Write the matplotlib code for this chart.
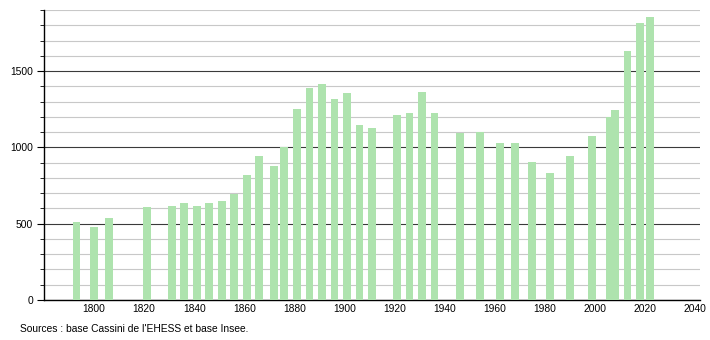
import matplotlib.pyplot as plt
from matplotlib.ticker import MultipleLocator

years = [1793, 1800, 1806, 1821, 1831, 1836, 1841, 1846, 1851, 1856,
         1861, 1866, 1872, 1876, 1881, 1886, 1891, 1896, 1901, 1906,
         1911, 1921, 1926, 1931, 1936, 1946, 1954, 1962, 1968, 1975,
         1982, 1990, 1999, 2006, 2008, 2013, 2018, 2022]
population = [508, 476, 539, 610, 616, 636, 616, 638, 651, 692,
              822, 941, 875, 1000, 1250, 1388, 1412, 1316, 1353, 1149,
              1125, 1211, 1224, 1360, 1224, 1096, 1103, 1031, 1031, 906,
              835, 941, 1072, 1202, 1243, 1630, 1816, 1853]
xticks = list(range(1800, 2041, 20))
source = "Sources : base Cassini de l'EHESS et base Insee."

plt.rcParams['font.family'] = ['Liberation Sans', 'DejaVu Sans']
fs = 7.4

fig = plt.figure(figsize=(7.1, 3.4), dpi=100)
ax = fig.add_axes([44 / 710, 40 / 340, 656 / 710, 290 / 340])

ax.bar(years, population, width=3.1, color='#aee3ae', zorder=3)

ax.set_xlim(1780, 2042)
ax.set_ylim(0, 1900)
ax.yaxis.set_major_locator(MultipleLocator(500))
ax.yaxis.set_minor_locator(MultipleLocator(100))
ax.set_xticks(xticks)
ax.grid(which='minor', axis='y', color='#c8c8c8', linewidth=0.8, zorder=0)
ax.grid(which='major', axis='y', color='#3a3a3a', linewidth=0.8, zorder=1)

for s in ['top', 'right']:
    ax.spines[s].set_visible(False)
ax.spines['left'].set_linewidth(1.0)
ax.spines['bottom'].set_linewidth(1.0)
ax.tick_params(axis='x', length=0, labelsize=fs, pad=3)
ax.tick_params(axis='y', which='major', length=5, labelsize=fs, pad=3)
ax.tick_params(axis='y', which='minor', length=3)

fig.text(20 / 710, 1 - 329 / 340, source, fontsize=7.4, va='center', ha='left')

plt.savefig('out.png', dpi=100)
